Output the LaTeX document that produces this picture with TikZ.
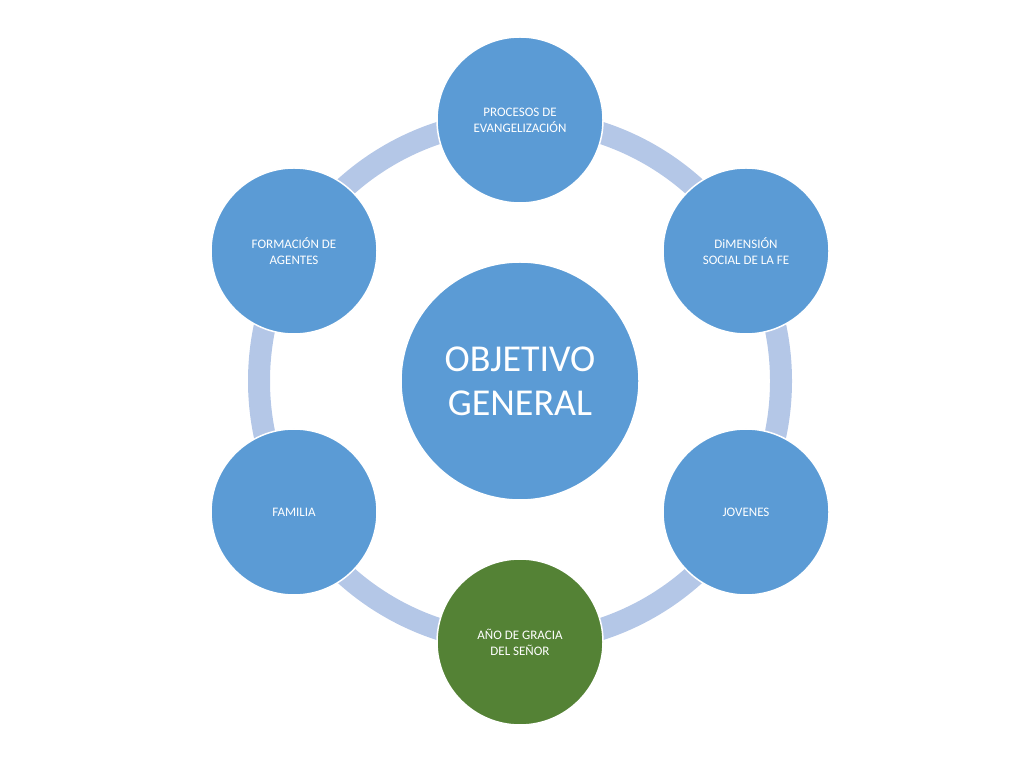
\documentclass[tikz,border=0pt]{standalone}
\usepackage{fontspec}
\setmainfont{Carlito}
\usetikzlibrary{positioning}
\definecolor{ringblue}{HTML}{B4C7E7}
\definecolor{nodeblue}{HTML}{5B9BD5}
\definecolor{nodegreen}{HTML}{548235}
\tikzset{topic/.style={circle,draw=white,line width=1.5pt,fill=nodeblue,
text=white,minimum size=166pt,align=center,font=\fontsize{13pt}{16pt}\selectfont}}
\tikzset{core/.style={circle,draw=white,line width=1.5pt,fill=nodeblue,
text=white,minimum size=238pt,align=center,font=\fontsize{38pt}{44pt}\selectfont}}
\begin{document}
\begin{tikzpicture}[x=1pt,y=1pt]
        \useasboundingbox (0,0) rectangle (1024,768);

        \coordinate (mid) at (520,387);
        \draw [ringblue,line width=22pt] (mid) circle (261);

        \node[core] (objetivo) at (mid) {OBJETIVO\\GENERAL};

        \node[topic] (procesos) at (520,648) {PROCESOS DE\\EVANGELIZACIÓN};
        \node[topic] (social) at (746,517) {DiMENSIÓN\\SOCIAL DE LA FE};
        \node[topic] (jovenes) at (746,256) {JOVENES};
        \node[topic,fill=nodegreen] (gracia) at (520,126) {AÑO DE GRACIA\\DEL SEÑOR};
        \node[topic] (familia) at (294,256) {FAMILIA};
        \node[topic] (formacion) at (294,517) {FORMACIÓN DE\\AGENTES};

    \end{tikzpicture}
\end{document}
